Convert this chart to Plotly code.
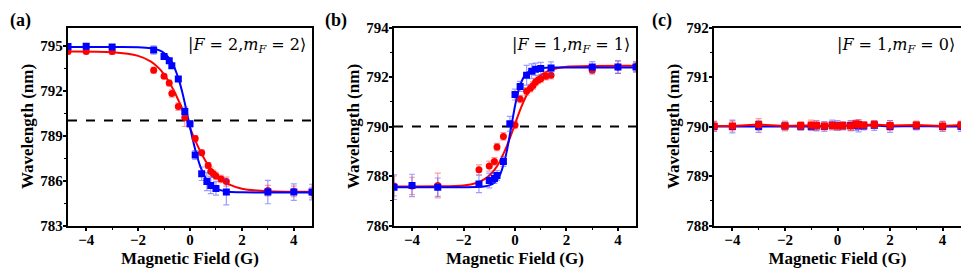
import plotly.graph_objects as go

# ---------------- data ----------------
X_RANGE = [-4.7, 4.7]
REF_WAVELENGTH = 790

# panel (a) |F=2, mF=2>
a_blue_x = [-4.7, -4, -3, -1.4, -1.0, -0.8, -0.7, -0.45, -0.2, 0, 0.2, 0.45, 0.65, 0.8, 1.0, 1.4, 3, 4, 4.7]
a_blue_y = [794.93, 794.95, 794.9, 794.7, 794.27, 793.98, 793.65, 792.76, 790.6, 789.78, 787.7, 786.45, 785.93, 785.67, 785.47, 785.23, 785.23, 785.23, 785.23]
a_blue_e = [0.15, 0.1, 0.15, 0.28, 0.15, 0.15, 0.15, 0.15, 0.3, 0.2, 0.3, 0.45, 0.6, 0.55, 0.45, 0.85, 0.78, 0.55, 0.52]
a_red_x = [-4.7, -4, -3, -1.4, -1.0, -0.8, -0.7, -0.45, -0.2, 0.2, 0.45, 0.7, 0.8, 0.9, 1.0, 1.2, 1.4, 3, 4, 4.7]
a_red_y = [794.6, 794.6, 794.6, 793.35, 792.95, 792.5, 791.8, 790.93, 790.2, 788.8, 787.85, 787.0, 786.6, 786.45, 786.3, 786.1, 785.93, 785.33, 785.27, 785.2]
a_red_e = [0.15, 0.15, 0.2, 0.2, 0.15, 0.2, 0.25, 0.25, 0.6, 0.2, 0.2, 0.2, 0.3, 0.25, 0.25, 0.25, 0.3, 0.35, 0.35, 0.35]
fit_x = [-4.7, -3, -2, -1.5, -1.2, -1.0, -0.8, -0.6, -0.4, -0.3, -0.2, -0.1, 0, 0.1, 0.2, 0.3, 0.4, 0.6, 0.8, 1.0, 1.2, 1.5, 2, 3, 4.7]
a_blue_fit = [794.9, 794.9, 794.89, 794.82, 794.69, 794.5, 794.14, 793.53, 792.54, 791.9, 791.16, 790.37, 789.57, 788.78, 788.07, 787.45, 786.92, 786.17, 785.72, 785.47, 785.34, 785.25, 785.21, 785.2, 785.2]
a_red_fit = [794.6, 794.55, 794.31, 793.93, 793.49, 793.08, 792.55, 791.92, 791.17, 790.77, 790.35, 789.93, 789.5, 789.08, 788.68, 788.29, 787.93, 787.3, 786.78, 786.36, 786.05, 785.74, 785.45, 785.28, 785.25]

# panel (b) |F=1, mF=1>
b_blue_x = [-4.7, -4, -3, -1.4, -1.0, -0.8, -0.7, -0.45, -0.2, 0, 0.2, 0.45, 0.65, 0.8, 1.0, 1.4, 3, 4, 4.7]
b_blue_y = [787.55, 787.62, 787.55, 787.68, 787.82, 787.9, 788.02, 788.59, 790.11, 791.29, 791.62, 792.07, 792.23, 792.31, 792.34, 792.36, 792.4, 792.4, 792.4]
b_blue_e = [0.5, 0.45, 0.37, 0.35, 0.3, 0.2, 0.2, 0.2, 0.3, 0.22, 0.2, 0.4, 0.3, 0.25, 0.25, 0.25, 0.22, 0.25, 0.2]
b_red_x = [-4.7, -4, -3, -1.4, -1.0, -0.8, -0.7, -0.45, 0, 0.2, 0.45, 0.6, 0.7, 0.8, 0.9, 1.0, 1.2, 1.4, 3, 4, 4.7]
b_red_y = [787.6, 787.6, 787.62, 788.25, 788.4, 788.59, 789.17, 789.6, 790.06, 791.11, 791.42, 791.55, 791.66, 791.8, 791.88, 791.93, 792.03, 792.07, 792.27, 792.4, 792.42]
b_red_e = [0.4, 0.35, 0.5, 0.2, 0.2, 0.15, 0.15, 0.15, 0.15, 0.15, 0.15, 0.15, 0.15, 0.15, 0.15, 0.15, 0.15, 0.15, 0.15, 0.25, 0.2]
b_blue_fit = [787.55, 787.55, 787.55, 787.556, 787.58, 787.62, 787.73, 788.01, 788.63, 789.1, 789.67, 790.26, 790.83, 791.3, 791.67, 791.92, 792.09, 792.27, 792.34, 792.36, 792.37, 792.38, 792.38, 792.38, 792.38]
b_red_fit = [787.58, 787.584, 787.62, 787.72, 787.86, 788.02, 788.25, 788.57, 789.01, 789.26, 789.53, 789.81, 790.1, 790.39, 790.67, 790.92, 791.16, 791.56, 791.86, 792.07, 792.2, 792.32, 792.41, 792.445, 792.45]

# panel (c) |F=1, mF=0>
c_x = [-4.7, -4, -3, -2, -1.4, -1.0, -0.8, -0.5, -0.2, 0, 0.2, 0.5, 0.7, 0.8, 1.0, 1.4, 2, 3, 4, 4.7]
c_red_y = [790.01, 790.01, 790.04, 790.01, 790.02, 790.03, 790.02, 790.01, 790.02, 790.01, 790.02, 790.01, 790.05, 790.04, 790.03, 790.04, 790.02, 790.03, 790.01, 790.03]
c_blue_y = [790.0, 790.0, 790.0, 790.01, 790.0, 790.0, 790.01, 790.0, 790.03, 790.02, 790.01, 790.02, 790.02, 790.01, 790.01, 790.02, 790.0, 790.01, 790.0, 790.0]
c_red_e = [0.1, 0.1, 0.12, 0.1, 0.08, 0.1, 0.1, 0.08, 0.08, 0.08, 0.08, 0.1, 0.08, 0.1, 0.06, 0.08, 0.1, 0.08, 0.1, 0.08]
c_blue_e = [0.1, 0.13, 0.12, 0.08, 0.08, 0.08, 0.1, 0.1, 0.1, 0.1, 0.08, 0.1, 0.1, 0.12, 0.08, 0.1, 0.12, 0.08, 0.1, 0.1]

panel_labels = ["(a)", "(b)", "(c)"]
state_labels = [
    "|<i>F</i> = 2,<i>m</i><sub><i>F</i></sub> = 2⟩",
    "|<i>F</i> = 1,<i>m</i><sub><i>F</i></sub> = 1⟩",
    "|<i>F</i> = 1,<i>m</i><sub><i>F</i></sub> = 0⟩",
]
y_ranges = [[783, 796.2], [786, 794], [788, 792]]
y_dticks = [3, 2, 1]
x_title = "Magnetic Field (G)"
y_title = "Wavelength (nm)"

# ---------------- styling ----------------
BLUE = "#0000FF"
RED = "#FF0000"
BLUE_ERR = "rgba(60,60,255,0.5)"
RED_ERR = "rgba(255,60,60,0.5)"
SERIF = "Liberation Serif, Times New Roman, serif"

# page has an 8px body margin; the figure is sized to fill the rest of the window
OFF = 8
W, H = 969 - OFF, 268 - OFF
x_px = [(68 - OFF, 312 - OFF), (394 - OFF, 636 - OFF), (714 - OFF, 961 - OFF)]
y_px = (27.5 - OFF, 225.5 - OFF)
label_px = [0, 323 - OFF, 650 - OFF]

fig = go.Figure()


def add_pts(x, y, e, color, ecolor, symbol, ax, mode="markers", lw=2):
    fig.add_trace(go.Scatter(
        x=x, y=y, mode=mode,
        marker=dict(color=color, symbol=symbol, size=7),
        line=dict(color=color, width=lw),
        error_y=dict(type="data", array=e, visible=True, color=ecolor, thickness=1.2, width=3),
        xaxis="x" + ax, yaxis="y" + ax, showlegend=False,
    ))


def add_fit(x, y, color, ax):
    fig.add_trace(go.Scatter(
        x=x, y=y, mode="lines", line=dict(color=color, width=2, shape="spline", smoothing=0.8),
        xaxis="x" + ax, yaxis="y" + ax, showlegend=False, hoverinfo="skip",
    ))


# (a)
add_fit(fit_x, a_red_fit, RED, "")
add_fit(fit_x, a_blue_fit, BLUE, "")
add_pts(a_red_x, a_red_y, a_red_e, RED, RED_ERR, "circle", "")
add_pts(a_blue_x, a_blue_y, a_blue_e, BLUE, BLUE_ERR, "square", "")
# (b)
add_fit(fit_x, b_red_fit, RED, "2")
add_fit(fit_x, b_blue_fit, BLUE, "2")
add_pts(b_red_x, b_red_y, b_red_e, RED, RED_ERR, "circle", "2")
add_pts(b_blue_x, b_blue_y, b_blue_e, BLUE, BLUE_ERR, "square", "2")
# (c)
add_pts(c_x, c_blue_y, c_blue_e, BLUE, BLUE_ERR, "square", "3", mode="lines+markers")
add_pts(c_x, c_red_y, c_red_e, RED, RED_ERR, "square", "3", mode="lines+markers")

tickfont = dict(family=SERIF, size=15, color="black", weight="bold")
titlefont = dict(family=SERIF, size=17, color="black", weight="bold")
ydom = [1 - y_px[1] / H, 1 - y_px[0] / H]

layout = dict(
    width=W, height=H, margin=dict(l=0, r=0, t=0, b=0),
    paper_bgcolor="white", plot_bgcolor="white",
    annotations=[], shapes=[],
)
for i in range(3):
    sfx = "" if i == 0 else str(i + 1)
    ax_common = dict(showline=True, linecolor="black", linewidth=1.5, mirror=True,
                     ticks="outside", ticklen=3.5, tickwidth=1.5, tickcolor="black",
                     showgrid=False, zeroline=False, tickfont=tickfont, automargin=False)
    layout["xaxis" + sfx] = dict(
        ax_common, domain=[x_px[i][0] / W, x_px[i][1] / W], range=X_RANGE,
        anchor="y" + sfx, dtick=2, tick0=0, ticklabelstandoff=-4,
        minor=dict(ticks="outside", ticklen=2.5, tickwidth=1.2, dtick=1, tick0=0, tickcolor="black"),
        title=dict(text=x_title, font=titlefont, standoff=5),
    )
    layout["yaxis" + sfx] = dict(
        ax_common, domain=ydom, range=y_ranges[i], anchor="x" + sfx,
        dtick=y_dticks[i], tick0=y_ranges[i][0], ticklabelstandoff=-3,
        minor=dict(ticks="outside", ticklen=2.5, tickwidth=1.2, dtick=y_dticks[i] / 2,
                   tick0=y_ranges[i][0], tickcolor="black"),
        title=dict(text=y_title, font=titlefont, standoff=2),
    )
    layout["annotations"].append(dict(
        text=panel_labels[i], xref="paper", yref="paper",
        x=label_px[i] / W, y=1, xanchor="left", yanchor="top",
        showarrow=False, font=dict(family=SERIF, size=18, color="black", weight="bold"),
    ))
    layout["annotations"].append(dict(
        text=state_labels[i], xref="x" + sfx + " domain", yref="y" + sfx + " domain",
        x=0.985, y=0.91, xanchor="right", yanchor="middle", showarrow=False,
        font=dict(family="DejaVu Serif, serif", size=16, color="black"),
    ))
    if i < 2:
        layout["shapes"].append(dict(
            type="line", xref="x" + sfx + " domain", yref="y" + sfx,
            x0=0, x1=1, y0=REF_WAVELENGTH, y1=REF_WAVELENGTH,
            line=dict(color="black", width=1.8, dash="dash"), layer="below",
        ))

fig.update_layout(**layout)
fig.write_html("out.html")
